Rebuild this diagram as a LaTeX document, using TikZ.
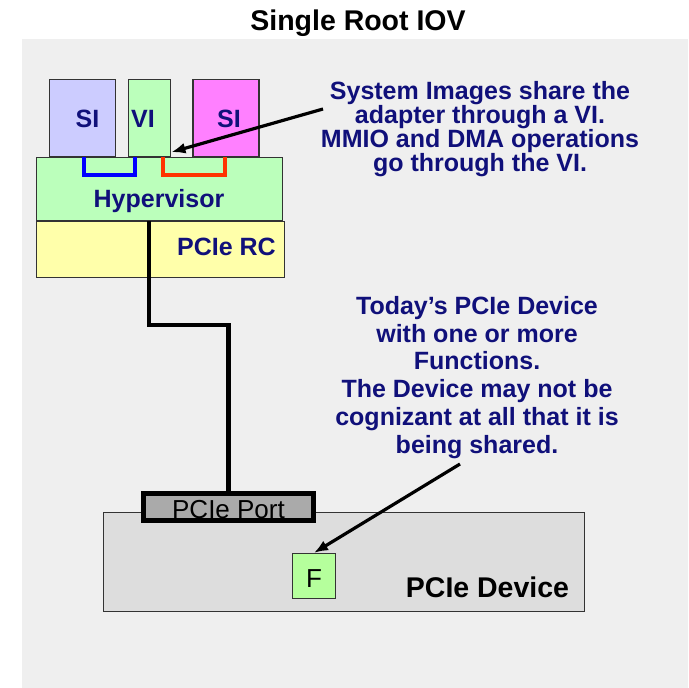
\documentclass[tikz,border=0pt]{standalone}
\usepackage{fontspec}
\setmainfont{Liberation Sans}
\usetikzlibrary{arrows.meta, positioning}

\definecolor{panel}{HTML}{EFEFEF}
\definecolor{edge}{HTML}{333333}
\definecolor{notetext}{HTML}{10107A}
\definecolor{silav}{HTML}{CCCCFF}
\definecolor{simag}{HTML}{FF80FF}
\definecolor{vigreen}{HTML}{BBFFBB}
\definecolor{rcyellow}{HTML}{FFFFAA}
\definecolor{fgreen}{HTML}{B5FF9C}
\definecolor{devgrey}{HTML}{DDDDDD}
\definecolor{portgrey}{HTML}{AAAAAA}
\definecolor{viblue}{HTML}{0000FF}
\definecolor{vired}{HTML}{FF3300}

\begin{document}
\begin{tikzpicture}[x=1pt, y=-1pt,
  box/.style={draw=edge, line width=1.3pt, inner sep=0pt},
  lbl/.style={font=\fontsize{25}{25}\selectfont\bfseries, text=notetext, inner sep=0pt},
  note/.style={lbl, align=center},
  dev/.style={font=\fontsize{26}{26}\selectfont, inner sep=0pt},
  arrowline/.style={-{Latex[length=14pt, width=11pt]}, line width=3.2pt},
  bus/.style={line width=4.8pt},
  slot/.style={line width=4pt}
]
  \useasboundingbox (0,0) rectangle (688,688);
  \fill[panel] (22,39) rectangle (688,688);
  \node[font=\fontsize{28.5}{28.5}\selectfont\bfseries, anchor=base] (title) at (358,30) {Single Root IOV};

  % HOST
  \node[box, fill=silav, minimum width=66pt, minimum height=77pt] (si1) at (82.5,118) {};
  \node[box, fill=vigreen, minimum width=42pt, minimum height=77pt, right=12pt of si1] (vi) {};
  \node[box, fill=simag, minimum width=66pt, minimum height=77pt, right=21pt of vi] (si2) {};
  \node[box, fill=vigreen, minimum width=246pt, minimum height=63pt] (hyp) at (159.5,189) {};
  \node[box, fill=rcyellow, minimum width=248pt, minimum height=56pt] (rc) at (160.5,249.5) {};
  \draw[slot, viblue] (84,157) |- (135,175) -- (135,157);
  \draw[slot, vired] (163,157) |- (225,175) -- (225,157);

  \node[lbl, anchor=base] (si1text) at (87.5,127) {SI};
  \node[lbl, anchor=base] (vitext) at (143,127) {VI};
  \node[lbl, anchor=base] (si2text) at (229,127) {SI};
  \node[lbl, anchor=base] (hyptext) at (159,207) {Hypervisor};
  \node[lbl, anchor=base] (rctext) at (226.5,255) {PCIe RC};

  % DEVICE
  \node[box, fill=devgrey, minimum width=481pt, minimum height=99pt] (device) at (344,562) {};
  \node[box, fill=portgrey, draw=black, line width=4.8pt, minimum width=170pt, minimum height=27pt] (port) at (228.5,507) {};
  \node[dev, anchor=base] (porttext) at (228.5,518) {PCIe Port};
  \node[box, fill=fgreen, minimum width=43pt, minimum height=45pt] (fbox) at (314,576) {};
  \node[dev, anchor=base] (ftext) at (314,587) {F};
  \node[font=\fontsize{28.5}{28.5}\selectfont\bfseries, anchor=base] (devtext) at (487.5,597.5) {PCIe Device};

  % NOTES
  \node[note, font=\fontsize{25}{24}\selectfont\bfseries, anchor=north] (sysnote) at (480,81.5)
    {System Images share the\\adapter through a VI.\\MMIO and DMA operations\\go through the VI.};
  \node[note, font=\fontsize{25}{27.8}\selectfont\bfseries, anchor=north] (devnote) at (477,296)
    {Today’s PCIe Device\\with one or more\\Functions.\\The Device may not be\\cognizant at all that it is\\being shared.};

  % LINKS
  \coordinate (rcout) at (149,221);
  \coordinate (bend) at (149,325);
  \draw[bus] (rcout) -- (bend) -| (port.north);

  \coordinate (sysfrom) at (323,109);
  \draw[arrowline] (sysfrom) -- ([yshift=5pt]vi.south east);
  \coordinate (devfrom) at (460,464);
  \draw[arrowline] (devfrom) -- (fbox.north);
\end{tikzpicture}
\end{document}
